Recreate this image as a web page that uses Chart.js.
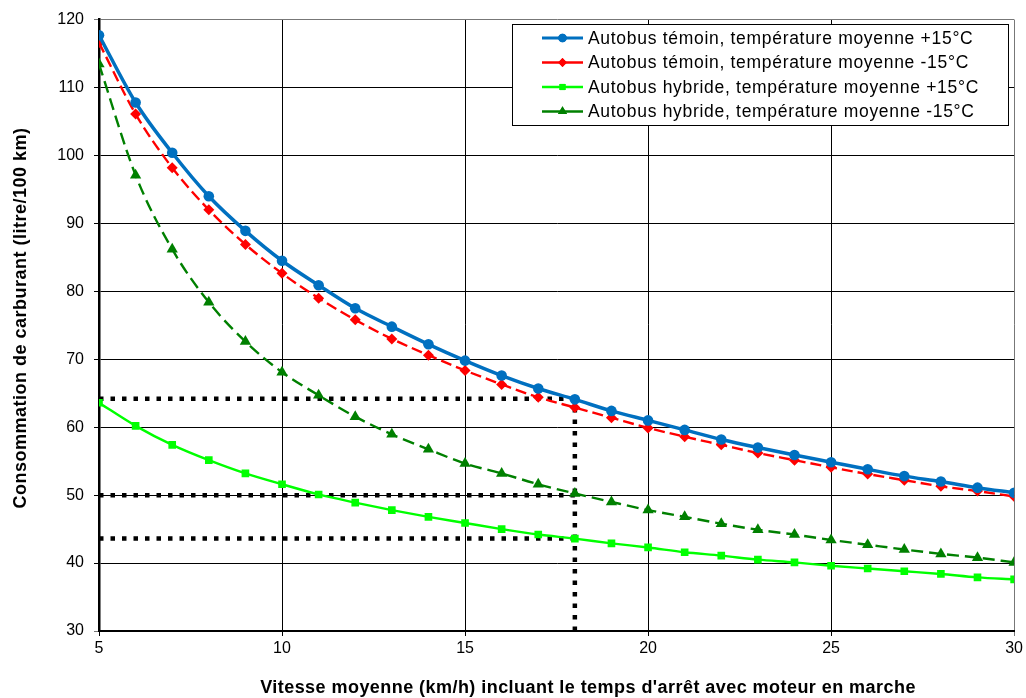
<!DOCTYPE html>
<html>
<head>
<meta charset="utf-8">
<title>Consommation de carburant</title>
<script src="https://cdn.jsdelivr.net/npm/chart.js"></script>
<style>
    body { margin: 0; background: #fff; }
    #wrap { width: 1026px; height: 698px; }
</style>
</head>
<body>
<div id="wrap"><canvas id="chart" width="1026" height="698"></canvas></div>
<script>
// data
const speeds = [5, 6, 7, 8, 9, 10, 11, 12, 13, 14, 15, 16, 17, 18, 19, 20, 21, 22, 23, 24, 25, 26, 27, 28, 29, 30];
const temoinPlus15 = [117.7, 107.8, 100.4, 94.0, 88.9, 84.5, 80.9, 77.5, 74.8, 72.2, 69.8, 67.6, 65.7, 64.1, 62.4, 61.0, 59.6, 58.2, 57.0, 55.9, 54.85, 53.8, 52.8, 52.0, 51.1, 50.35];
const temoinMinus15 = [116.6, 106.1, 98.2, 92.0, 86.9, 82.65, 79.0, 75.8, 73.0, 70.6, 68.35, 66.3, 64.4, 62.9, 61.4, 59.9, 58.6, 57.4, 56.2, 55.15, 54.1, 53.1, 52.2, 51.3, 50.6, 49.8];
const hybridePlus15 = [63.6, 60.2, 57.4, 55.15, 53.2, 51.6, 50.1, 48.9, 47.8, 46.8, 45.9, 45.0, 44.2, 43.6, 42.9, 42.3, 41.6, 41.1, 40.5, 40.1, 39.6, 39.2, 38.8, 38.4, 37.9, 37.6];
const hybrideMinus15 = [113.45, 97.1, 86.2, 78.4, 72.6, 68.1, 64.7, 61.55, 58.95, 56.75, 54.65, 53.2, 51.6, 50.25, 49.0, 47.8, 46.8, 45.8, 44.9, 44.2, 43.4, 42.7, 42.0, 41.35, 40.8, 40.1];
const seriesNames = [
    'Autobus témoin, température moyenne +15°C',
    'Autobus témoin, température moyenne -15°C',
    'Autobus hybride, température moyenne +15°C',
    'Autobus hybride, température moyenne -15°C'
];
// dotted reference lines
const refSpeed = 18;
const refLevels = [64.2, 50, 43.6];
const xTicks = [5, 10, 15, 20, 25, 30];
const yTicks = [30, 40, 50, 60, 70, 80, 90, 100, 110, 120];
const xTitle = "Vitesse moyenne (km/h) incluant le temps d'arrêt avec moteur en marche";
const yTitle = 'Consommation de carburant (litre/100 km)';

const FONT = '"Liberation Sans", Arial, sans-serif';

function pts(values) {
    return speeds.map((s, i) => ({ x: s, y: values[i] }));
}

const styles = [
    { color: '#0070C0', width: 3.5, dash: [], point: 'circle', radius: 5.3 },
    { color: '#FF0000', width: 2.4, dash: [11, 5], point: 'rectRot', radius: 5.5 },
    { color: '#00FF00', width: 2.4, dash: [], point: 'rect', radius: 5.4 },
    { color: '#008000', width: 2.4, dash: [12, 6], point: 'triangle', radius: 6.5 }
];

const curves = [temoinPlus15, temoinMinus15, hybridePlus15, hybrideMinus15].map((vals, i) => ({
    label: seriesNames[i],
    data: pts(vals),
    borderColor: styles[i].color,
    backgroundColor: styles[i].color,
    borderWidth: styles[i].width,
    borderDash: styles[i].dash,
    pointStyle: styles[i].point,
    pointRadius: styles[i].radius,
    pointBorderWidth: 0,
    cubicInterpolationMode: 'monotone',
    fill: false
}));

const dotted = refLevels.map(level => ({
    label: '',
    data: [{ x: speeds[0], y: level }, { x: refSpeed, y: level }],
    borderColor: '#000',
    borderWidth: 4.5,
    borderDash: [4.5, 7],
    borderCapStyle: 'butt',
    pointRadius: 0,
    fill: false
}));
dotted.push({
    label: '',
    data: [{ x: refSpeed, y: yTicks[0] }, { x: refSpeed, y: refLevels[0] }],
    borderColor: '#000',
    borderWidth: 4.5,
    borderDash: [4.5, 7],
    pointRadius: 0,
    fill: false
});

const extras = {
    id: 'extras',
    afterDraw(chart) {
        const ctx = chart.ctx;
        ctx.save();

        // legend box inside the plot
        const bx = 512, by = 24, bw = 496, bh = 101;
        ctx.fillStyle = '#fff';
        ctx.fillRect(bx, by, bw, bh);
        ctx.strokeStyle = '#000';
        ctx.lineWidth = 1;
        ctx.strokeRect(bx + 0.5, by + 0.5, bw, bh);
        ctx.font = '17.5px ' + FONT;
        ctx.letterSpacing = '0.7px';
        ctx.textBaseline = 'middle';
        ctx.textAlign = 'left';
        seriesNames.forEach((name, i) => {
            const y = 38 + i * 24.5;
            const st = styles[i];
            ctx.strokeStyle = st.color;
            ctx.lineWidth = Math.min(st.width, 3);
            ctx.setLineDash([]);
            ctx.beginPath();
            ctx.moveTo(542, y);
            ctx.lineTo(583, y);
            ctx.stroke();
            ctx.fillStyle = st.color;
            Chart.helpers.drawPoint(ctx, { pointStyle: st.point, radius: st.radius * 0.8, borderWidth: 0 }, 562.5, y);
            ctx.fill();
            ctx.fillStyle = '#000';
            ctx.fillText(name, 588, y + 1);
        });

        // axis titles
        ctx.fillStyle = '#000';
        ctx.font = 'bold 18px ' + FONT;
        ctx.letterSpacing = '0.45px';
        ctx.textAlign = 'center';
        ctx.textBaseline = 'middle';
        ctx.fillText(xTitle, 588, 688);
        ctx.letterSpacing = '0.5px';
        ctx.translate(21, 318);
        ctx.rotate(-Math.PI / 2);
        ctx.fillText(yTitle, 0, 0);
        ctx.restore();
    }
};

new Chart(document.getElementById('chart'), {
    type: 'line',
    data: { datasets: curves.concat(dotted) },
    options: {
        responsive: false,
        animation: false,
        events: [],
        layout: { padding: { top: 17, right: 11, left: 0, bottom: 0 } },
        plugins: {
            legend: { display: false },
            tooltip: { enabled: false }
        },
        scales: {
            x: {
                type: 'linear',
                min: xTicks[0],
                max: xTicks[xTicks.length - 1],
                afterFit(scale) { scale.height = 67; },
                afterBuildTicks(scale) { scale.ticks = xTicks.map(v => ({ value: v })); },
                ticks: { color: '#000', padding: 3, font: { family: FONT, size: 16 } },
                grid: {
                    color: ctx => (ctx.tick && ctx.tick.value === 30 ? '#777' : '#000'),
                    lineWidth: 1,
                    tickLength: 5
                },
                border: { color: '#000', width: 2 }
            },
            y: {
                min: yTicks[0],
                max: yTicks[yTicks.length - 1],
                afterFit(scale) { scale.width = 99; },
                afterBuildTicks(scale) { scale.ticks = yTicks.map(v => ({ value: v })); },
                ticks: { color: '#000', padding: 10, font: { family: FONT, size: 16 } },
                grid: {
                    color: ctx => (ctx.tick && (ctx.tick.value === 120 || ctx.tick.value === 30) ? '#777' : '#000'),
                    lineWidth: 1,
                    tickLength: 5
                },
                border: { color: '#000', width: 2.5 }
            }
        }
    },
    plugins: [extras]
});
</script>
</body>
</html>
